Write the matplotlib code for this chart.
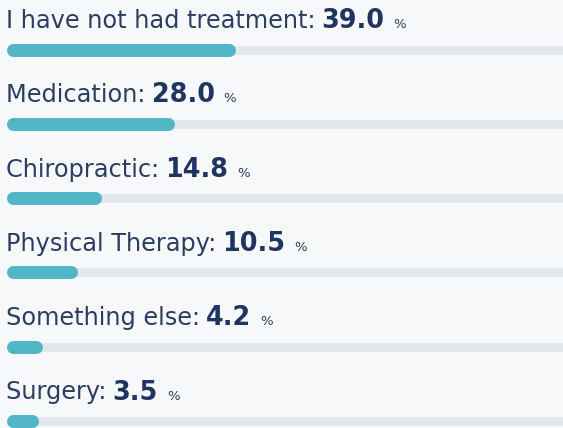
import matplotlib
matplotlib.use('Agg')
import matplotlib.pyplot as plt

# Data
categories = ['I have not had treatment', 'Medication', 'Chiropractic',
              'Physical Therapy', 'Something else', 'Surgery']
percentages = [39.0, 28.0, 14.8, 10.5, 4.2, 3.5]

# Colours
bg_color = '#f6f8fa'
track_color = '#e4e7ec'
bar_color = '#52b6c6'
label_color = '#2b3d62'
value_color = '#1f3461'

W, H, DPI = 563, 428, 100
fig = plt.figure(figsize=(W / DPI, H / DPI), dpi=DPI, facecolor=bg_color)
ax = fig.add_axes([0, 0, 1, 1])
ax.set_facecolor(bg_color)
ax.axis('off')

# x in percent, y in row index (row centres on the bars)
px_per_pct = 5.55
ax.set_xlim(-12.5 / px_per_pct, (W - 12.5) / px_per_pct)
row_px = 74.3
first_px = 49.5
ax.set_ylim((H - first_px) / row_px, -first_px / row_px)

bar_lw = 13 * 72 / DPI
track_lw = 9 * 72 / DPI
text_off = 21.5 / row_px
label_fs = 17.3
value_fs = 18.4
pct_fs = 9.5

fig.canvas.draw()
renderer = fig.canvas.get_renderer()
inv = ax.transData.inverted()

for i, (cat, val) in enumerate(zip(categories, percentages)):
    # background track, then filled bar with rounded ends
    ax.plot([0, 100], [i, i], color=track_color, lw=track_lw,
            solid_capstyle='round', zorder=1)
    ax.plot([0, val], [i, i], color=bar_color, lw=bar_lw,
            solid_capstyle='round', zorder=2)

    y_text = i - text_off
    t1 = ax.text(-7 / px_per_pct, y_text, f'{cat}: ', fontsize=label_fs,
                 color=label_color, va='baseline', ha='left')
    x1 = inv.transform((t1.get_window_extent(renderer).x1 - 1, 0))[0]
    t2 = ax.text(x1, y_text, f'{val:.1f}', fontsize=value_fs, fontweight='bold',
                 color=value_color, va='baseline', ha='left')
    x2 = inv.transform((t2.get_window_extent(renderer).x1 + 9, 0))[0]
    ax.text(x2, y_text, '%', fontsize=pct_fs, color=label_color,
            va='baseline', ha='left')

fig.savefig('out.png', dpi=DPI, facecolor=bg_color)
